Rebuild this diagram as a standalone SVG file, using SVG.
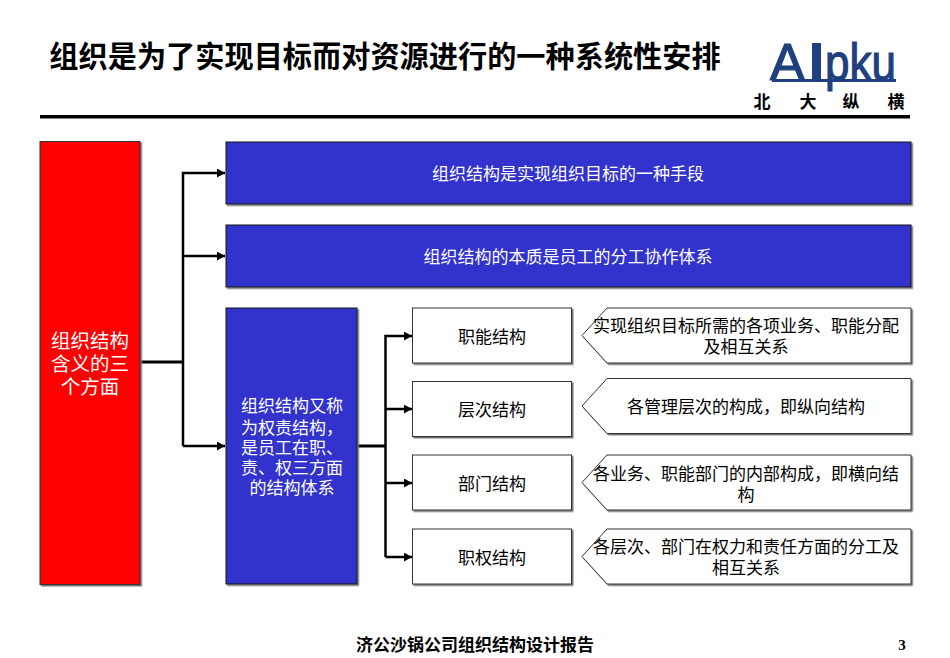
<svg xmlns="http://www.w3.org/2000/svg" width="950" height="658" viewBox="0 0 950 658">
<style>
text{font-family:"Liberation Sans","Noto Sans CJK SC",sans-serif;text-anchor:middle}
.t{font-size:17px;fill:#fff}
.k{font-size:17px;fill:#000}
.l{font-size:19.500px;fill:#fff}
.logo{fill:#1f3f7f;stroke:#1f3f7f;stroke-width:1.200;text-anchor:start}
.blue{fill:#3333cc;stroke:#111;stroke-width:1}
.w{fill:#fff;stroke:#333;stroke-width:1}
.c{fill:none;stroke:#000;stroke-width:3}
.c2{fill:none;stroke:#000;stroke-width:2.500}
</style>
<defs>
<marker id="a" markerUnits="userSpaceOnUse" markerWidth="10" markerHeight="10" refX="8" refY="4.500" orient="auto"><path d="M0 0L8 4.500L0 9Z" fill="#000"/></marker>
<filter id="s" x="-5%" y="-5%" width="110%" height="110%"><feDropShadow dx="1.500" dy="1.500" stdDeviation="0.600" flood-color="#777"/></filter>
</defs>
<rect width="950" height="658" fill="#fff"/>
<g id="title"><text x="385" y="67" style="font-size:29.200px;font-weight:bold;fill:#000">组织是为了实现目标而对资源进行的一种系统性安排</text></g>
<g id="logo">
<text class="logo" x="770" y="80" style="font-size:52px">A</text>
<rect x="812" y="43" width="9" height="37" fill="#1f3f7f"/>
<rect x="772" y="79" width="124" height="3" fill="#1f3f7f"/>
<text class="logo" x="825" y="80" style="font-size:52px" textLength="71" lengthAdjust="spacingAndGlyphs">pku</text>
<g style="font-size:17px;font-weight:bold"><text x="762" y="108">北</text><text x="808" y="108">大</text><text x="851" y="108">纵</text><text x="896" y="108">横</text></g>
</g>
<rect id="rule" x="40" y="115" width="870" height="3.500" fill="#000"/>
<g id="connectors">
<path class="c" d="M140 362H183"/>
<path class="c2" d="M183 446V173H225" marker-end="url(#a)"/>
<path class="c2" d="M183 256H225" marker-end="url(#a)"/>
<path class="c2" d="M183 446H225" marker-end="url(#a)"/>
<path class="c" d="M358 446H386"/>
<path class="c2" d="M385.500 557V336H412" marker-end="url(#a)"/>
<path class="c2" d="M385.500 409H412" marker-end="url(#a)"/>
<path class="c2" d="M385.500 483H412" marker-end="url(#a)"/>
<path class="c2" d="M385.500 557H412" marker-end="url(#a)"/>
</g>
<g id="n-root"><rect x="40" y="141.500" width="100" height="443" fill="#ff0000" stroke="#333" filter="url(#s)"/>
<text class="l" x="90" y="348">组织结构</text><text class="l" x="90" y="371">含义的三</text><text class="l" x="90" y="394">个方面</text></g>
<g id="n-a"><rect class="blue" x="226" y="142" width="685" height="62" filter="url(#s)"/><text class="t" x="568" y="180">组织结构是实现组织目标的一种手段</text></g>
<g id="n-b"><rect class="blue" x="226" y="225" width="685" height="62" filter="url(#s)"/><text class="t" x="568" y="263">组织结构的本质是员工的分工协作体系</text></g>
<g id="n-c"><rect class="blue" x="226" y="308" width="131" height="276" filter="url(#s)"/>
<text class="t" x="292" y="412">组织结构又称</text><text class="t" x="292" y="434">为权责结构，</text><text class="t" x="292" y="454">是员工在职、</text><text class="t" x="292" y="474">责、权三方面</text><text class="t" x="292" y="494">的结构体系</text></g>
<g id="n-d1"><rect class="w" x="412.500" y="308" width="159" height="55" filter="url(#s)"/><text class="k" x="492" y="343">职能结构</text></g>
<g id="n-d2"><rect class="w" x="412.500" y="381.500" width="159" height="55" filter="url(#s)"/><text class="k" x="492" y="416">层次结构</text></g>
<g id="n-d3"><rect class="w" x="412.500" y="455" width="159" height="55" filter="url(#s)"/><text class="k" x="492" y="490">部门结构</text></g>
<g id="n-d4"><rect class="w" x="412.500" y="529" width="159" height="55" filter="url(#s)"/><text class="k" x="492" y="564">职权结构</text></g>
<g id="n-e1"><path class="w" d="M607 308H911V363H607L582 335.500Z" filter="url(#s)"/><text class="k" x="746" y="332">实现组织目标所需的各项业务、职能分配</text><text class="k" x="746" y="353">及相互关系</text></g>
<g id="n-e2"><path class="w" d="M607 378.500H911V433.500H607L582 406Z" filter="url(#s)"/><text class="k" x="746" y="413">各管理层次的构成，即纵向结构</text></g>
<g id="n-e3"><path class="w" d="M607 455H911V510H607L582 482.500Z" filter="url(#s)"/><text class="k" x="746" y="480">各业务、职能部门的内部构成，即横向结</text><text class="k" x="746" y="501">构</text></g>
<g id="n-e4"><path class="w" d="M607 529H911V584H607L582 556.500Z" filter="url(#s)"/><text class="k" x="746" y="553">各层次、部门在权力和责任方面的分工及</text><text class="k" x="746" y="574">相互关系</text></g>
<g id="footer"><text x="475" y="651" style="font-size:17px;font-weight:bold">济公沙锅公司组织结构设计报告</text><text x="902" y="650" style="font-size:15px;font-weight:bold;font-family:'Liberation Serif',serif">3</text></g>
</svg>
